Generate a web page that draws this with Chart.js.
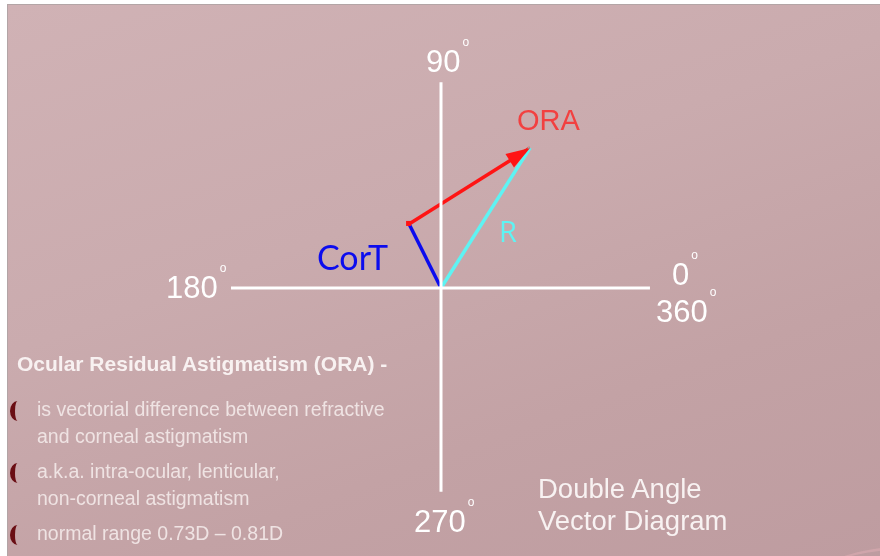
<!DOCTYPE html>
<html lang="en">
<head>
  <meta charset="UTF-8">
  <title>Double Angle Vector Diagram</title>
  <script src="https://cdn.jsdelivr.net/npm/chart.js"></script>
  <style>
    html, body { margin: 0; padding: 0; background: #fff; }
    #slide {
      position: absolute; left: 7px; top: 4px; width: 873px; height: 552px;
      border-left: 1px solid #b3a5a6; border-top: 1px solid #b3a5a6;
      background: linear-gradient(160deg, #d0b2b5 0%, #caabae 40%, #c3a2a5 70%, #be9ca0 100%);
      overflow: hidden;
    }
    #swoosh { position: absolute; left: 810px; top: 540px; width: 220px; height: 60px; border-radius: 50%;
      border-top: 3px solid rgba(215, 170, 175, 0.7); }
    #chartCanvas { position: absolute; left: 0; top: 0; }
    .txt { position: absolute; font-family: "Liberation Sans", Arial, sans-serif; white-space: nowrap; }
    .head { left: 17px; top: 352px; font-size: 21px; font-weight: bold; color: #f8f1f1; }
    .item { left: 37px; font-size: 19.5px; color: #efe3e3; line-height: 27px; }
    .bullet { position: absolute; left: 10px; width: 15px; height: 20px; border-radius: 50%;
      border-left: 5px solid #6a0e14; box-sizing: border-box; }
    .title { left: 538px; font-size: 27.5px; color: #f8f2f2; line-height: 32px; top: 473px; }
  </style>
</head>
<body>
  <div id="slide"><div id="swoosh"></div></div>
  <canvas id="chartCanvas" width="880" height="556"></canvas>
  <div class="txt head">Ocular Residual Astigmatism (ORA) -</div>
  <span class="bullet" style="top:401px"></span>
  <div class="txt item" style="top:396px">is vectorial difference between refractive<br>and corneal astigmatism</div>
  <span class="bullet" style="top:463px"></span>
  <div class="txt item" style="top:458px">a.k.a. intra-ocular, lenticular,<br>non-corneal astigmatism</div>
  <span class="bullet" style="top:525px"></span>
  <div class="txt item" style="top:520px">normal range 0.73D – 0.81D</div>
  <div class="txt title">Double Angle<br>Vector Diagram</div>

  <script>
    // axes of the diagram (units: 1 = one tick of the cross)
    const hAxisX = [-10.0, 9.95];
    const vAxisY = [9.8, -9.7];
    const axisLabels = ['0°', '90°', '180°', '270°', '360°'];

    // vectors
    const vectorNames = ['CorT', 'ORA', 'R'];
    const cortX = [0, -1.52], cortY = [0, 3.05];
    const oraX = [-1.52, 4.24], oraY = [3.05, 6.67];
    const rX = [0, 4.24], rY = [0, 6.67];

    const S = 21; // px per unit
    const pts = (xs, ys) => xs.map((x, i) => ({ x, y: ys[i] }));

    const blue = '#0c0cee', red = '#ff1414', cyan = '#5ef3f3';

    // arrow head + text labels
    const deco = {
      id: 'deco',
      afterDatasetsDraw(chart) {
        const { ctx, scales } = chart;
        const px = v => scales.x.getPixelForValue(v);
        const py = v => scales.y.getPixelForValue(v);

        // arrow head at the end of ORA
        const x1 = px(oraX[0]), y1 = py(oraY[0]);
        const x2 = px(oraX[1]), y2 = py(oraY[1]);
        const a = Math.atan2(y2 - y1, x2 - x1);
        const L = 24, W = 8;
        ctx.save();
        ctx.fillStyle = red;
        ctx.beginPath();
        ctx.moveTo(x2, y2);
        ctx.lineTo(x2 - L * Math.cos(a) + W * Math.sin(a), y2 - L * Math.sin(a) - W * Math.cos(a));
        ctx.lineTo(x2 - L * Math.cos(a) - W * Math.sin(a), y2 - L * Math.sin(a) + W * Math.cos(a));
        ctx.closePath();
        ctx.fill();
        // small marker at ORA start
        ctx.fillRect(x1 - 3, y1 - 3, 5, 5);

        // degree labels
        const ox = px(0), oy = py(0);
        const deg = (num, x, y) => {
          ctx.font = '31px "Liberation Sans", Arial, sans-serif';
          ctx.fillStyle = '#ffffff';
          ctx.textBaseline = 'alphabetic';
          ctx.textAlign = 'left';
          ctx.fillText(num, x, y);
          const w = ctx.measureText(num).width;
          ctx.font = '12px "Liberation Sans", Arial, sans-serif';
          ctx.fillText('o', x + w + 2, y - 26);
        };
        const lab = axisLabels.map(s => s.replace('°', ''));
        deg(lab[1], ox - 15, py(vAxisY[0]) - 10);
        deg(lab[2], px(hAxisX[0]) - 65, oy + 10);
        deg(lab[0], px(hAxisX[1]) + 22, oy - 3);
        deg(lab[4], px(hAxisX[1]) + 6, oy + 34);
        deg(lab[3], ox - 27, py(vAxisY[1]) + 40);

        // vector names
        ctx.textAlign = 'left';
        ctx.font = '29px "Liberation Sans", Arial, sans-serif';
        ctx.fillStyle = '#f24040';
        ctx.fillText(vectorNames[1], px(oraX[1]) - 13, py(oraY[1]) - 18);
        ctx.fillStyle = cyan;
        ctx.font = '29px "Open Sans", sans-serif';
        ctx.fillText(vectorNames[2], ox + 58, oy - 46);
        ctx.fillStyle = blue;
        ctx.font = '34px Lato, "Open Sans", sans-serif';
        ctx.fillText(vectorNames[0], ox - 124, oy - 18);
        ctx.restore();
      }
    };

    new Chart(document.getElementById('chartCanvas'), {
      type: 'scatter',
      data: {
        datasets: [
          { label: 'h', data: pts(hAxisX, [0, 0]), showLine: true, borderColor: '#ffffff', borderWidth: 3, pointRadius: 0 },
          { label: 'v', data: pts([0, 0], vAxisY), showLine: true, borderColor: '#ffffff', borderWidth: 3, pointRadius: 0 },
          { label: vectorNames[2], data: pts(rX, rY), showLine: true, borderColor: cyan, borderWidth: 3.5, pointRadius: 0 },
          { label: vectorNames[0], data: pts(cortX, cortY), showLine: true, borderColor: blue, borderWidth: 3.5, pointRadius: 0 },
          { label: vectorNames[1], data: pts(oraX, oraY), showLine: true, borderColor: red, borderWidth: 3.5, pointRadius: 0 }
        ]
      },
      options: {
        responsive: false,
        animation: false,
        layout: { padding: 0 },
        plugins: { legend: { display: false }, tooltip: { enabled: false } },
        scales: {
          x: { display: false, min: -441 / S, max: 439 / S },
          y: { display: false, min: -268 / S, max: 288 / S }
        }
      },
      plugins: [deco]
    });
  </script>
</body>
</html>
